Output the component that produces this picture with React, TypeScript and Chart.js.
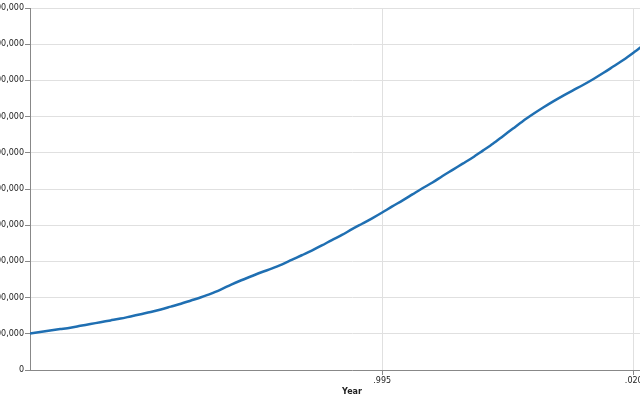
import { useEffect, useRef } from "react";
import { Chart, registerables } from "chart.js";

Chart.register(...registerables);

const years: number[] = [
  1960, 1961, 1962, 1963, 1964, 1965, 1966, 1967, 1968, 1969,
  1970, 1971, 1972, 1973, 1974, 1975, 1976, 1977, 1978, 1979,
  1980, 1981, 1982, 1983, 1984, 1985, 1986, 1987, 1988, 1989,
  1990, 1991, 1992, 1993, 1994, 1995, 1996, 1997, 1998, 1999,
  2000, 2001, 2002, 2003, 2004, 2005, 2006, 2007, 2008, 2009,
  2010, 2011, 2012, 2013, 2014, 2015, 2016, 2017, 2018, 2019,
  2020, 2021,
];

const values: number[] = [
  101000, 105000, 109000, 113000, 117000, 122000, 127000, 132000, 137000, 142000,
  148000, 154000, 160000, 167000, 175000, 183000, 192000, 201000, 211000, 223000,
  236000, 248000, 259000, 270000, 280000, 291000, 304000, 317000, 330000, 344000,
  359000, 373000, 389000, 404000, 419000, 435000, 452000, 468000, 485000, 502000,
  518000, 536000, 553000, 570000, 587000, 606000, 625000, 646000, 667000, 688000,
  707000, 725000, 742000, 758000, 773000, 788000, 804000, 821000, 839000, 857000,
  877000, 898000,
];

const yTicks: number[] = [
  0, 100000, 200000, 300000, 400000, 500000, 600000, 700000, 800000, 900000, 1000000,
];

const xTicks: number[] = [1995, 2020];
const xTickLabels: string[] = [".995", ".020"];

const xTitle = "Year";

export default function App() {
  const ref = useRef<HTMLCanvasElement | null>(null);

  useEffect(() => {
    if (!ref.current) return;
    const chart = new Chart(ref.current, {
      type: "line",
      data: {
        datasets: [
          {
            data: years.map((y, i) => ({ x: y, y: values[i] })),
            borderColor: "#1f6fb2",
            borderWidth: 2.5,
            pointRadius: 0,
            tension: 0.3,
            fill: false,
          },
        ],
      },
      options: {
        animation: false,
        responsive: false,
        layout: { padding: { top: 8, right: 0, bottom: 0, left: 0 } },
        plugins: { legend: { display: false }, tooltip: { enabled: false } },
        scales: {
          x: {
            type: "linear",
            min: 1960,
            max: 2024,
            afterBuildTicks: (s: any) => {
              s.ticks = xTicks.map((v) => ({ value: v }));
            },
            afterFit: (s: any) => {
              s.height = 30;
            },
            ticks: {
              autoSkip: false,
              maxRotation: 0,
              padding: 1,
              color: "#222",
              font: { family: "DejaVu Sans", size: 8 },
              callback: (v: any) => {
                const i = xTicks.indexOf(Number(v));
                return i >= 0 ? xTickLabels[i] : "";
              },
            },
            grid: { color: "#e0e0e0", tickColor: "#888", tickLength: 5 },
            border: { color: "#888", width: 1 },
            title: {
              display: true,
              text: xTitle,
              color: "#222",
              font: { family: "DejaVu Sans", size: 8, weight: "bold" },
              padding: { top: 0, bottom: 3 },
            },
          },
          y: {
            type: "linear",
            min: 0,
            max: 1000000,
            afterBuildTicks: (s: any) => {
              s.ticks = yTicks.map((v) => ({ value: v }));
            },
            afterFit: (s: any) => {
              s.width = 90;
            },
            ticks: {
              autoSkip: false,
              padding: 1,
              color: "#222",
              font: { family: "DejaVu Sans", size: 8 },
              callback: (v: any) => Number(v).toLocaleString("en-US"),
            },
            grid: { color: "#e0e0e0", tickColor: "#888", tickLength: 5 },
            border: { color: "#888", width: 1 },
          },
        },
      },
    });
    return () => chart.destroy();
  }, []);

  return (
    <div
      style={{
        position: "fixed",
        left: 0,
        top: 0,
        width: 640,
        height: 400,
        overflow: "hidden",
        background: "#fff",
      }}
    >
      <canvas
        ref={ref}
        width={734}
        height={400}
        style={{ position: "absolute", left: -60, top: 0, width: 734, height: 400 }}
      />
    </div>
  );
}
